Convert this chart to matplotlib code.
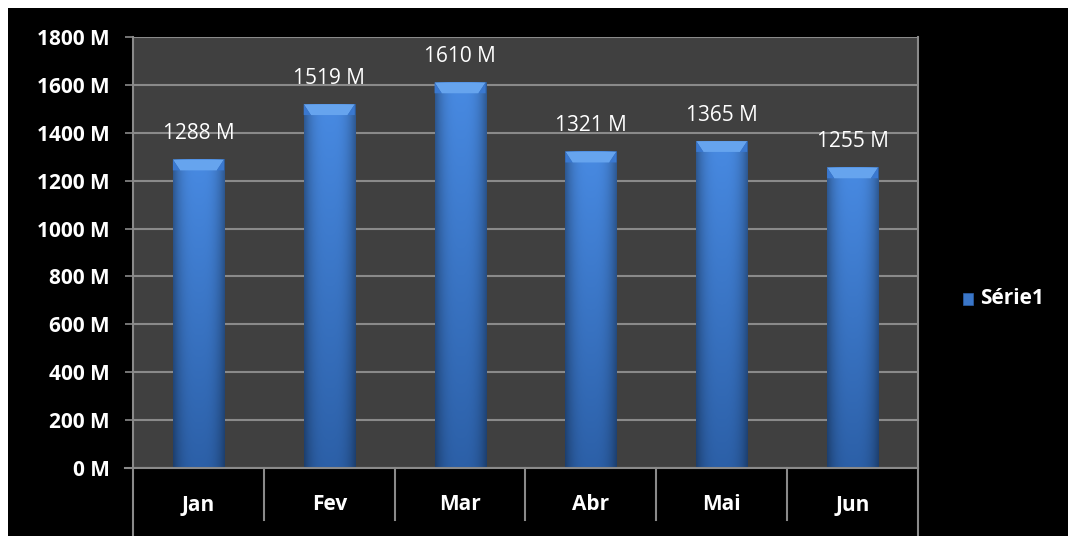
import matplotlib
matplotlib.use("Agg")
import matplotlib.pyplot as plt
import numpy as np
from matplotlib.patches import Rectangle, Polygon

categories = ["Jan", "Fev", "Mar", "Abr", "Mai", "Jun"]
values = [1288, 1519, 1610, 1321, 1365, 1255]
yticks = [0, 200, 400, 600, 800, 1000, 1200, 1400, 1600, 1800]
series_name = "Série1"

W, H = 1068, 536
fig = plt.figure(figsize=(W / 100, H / 100), dpi=100, facecolor="white")
bg = Rectangle((8 / W, 0), 1 - 8 / W, 1 - 8 / H, transform=fig.transFigure,
               facecolor="black", edgecolor="none", zorder=-10)
fig.add_artist(bg)

L, R, T, B = 133, 918, 37, 468
ax = fig.add_axes([L / W, 1 - B / H, (R - L) / W, (B - T) / H])
ax.set_zorder(1)
ax.set_facecolor("#404040")
ax.set_xlim(-0.5, len(categories) - 0.5)
ax.set_ylim(0, 1800)

for s in ax.spines.values():
    s.set_visible(False)

FS = 15
grid_col = "#8a8a8a"
ax.set_yticks(yticks)
ax.set_yticklabels([f"{v} M" for v in yticks], color="white", fontsize=FS,
                   fontfamily="Open Sans", fontweight="bold")
ax.tick_params(axis="y", length=6, width=1.2, color=grid_col, pad=11)
ax.set_xticks([])
for v in yticks:
    ax.axhline(v, color=grid_col, lw=1.5, zorder=1)

bw = 0.39
xs = np.arange(len(categories))
bars = ax.bar(xs, values, width=bw, color="#3a76c8", zorder=2, label=series_name)

# gradients on bars
ny = 64
gx = np.linspace(-1, 1, 64)
hshade = 1 - 0.35 * np.abs(gx) ** 3
gy = np.linspace(0, 1, ny)
top_col = np.array([0x48, 0x8a, 0xe2]) / 255
bot_col = np.array([0x2c, 0x60, 0xa8]) / 255
for rect in bars:
    x0 = rect.get_x(); h = rect.get_height()
    vcol = bot_col[None, :] * (1 - gy[:, None]) + top_col[None, :] * gy[:, None]
    img = vcol[:, None, :] * hshade[None, :, None]
    ax.imshow(np.clip(img, 0, 1), extent=(x0, x0 + bw, 0, h), origin="lower",
              aspect="auto", zorder=3, interpolation="bilinear")
    # bevel
    bh = 45
    ins = 0.055
    poly = Polygon([(x0, h), (x0 + bw, h), (x0 + bw - ins, h - bh), (x0 + ins, h - bh)],
                   closed=True, facecolor="#66a4ee", edgecolor="none", zorder=4)
    ax.add_patch(poly)
    poly2 = Polygon([(x0, h), (x0 + ins, h - bh), (x0, h - bh)], closed=True,
                    facecolor="#3a78cf", edgecolor="none", zorder=4)
    ax.add_patch(poly2)
    poly3 = Polygon([(x0 + bw, h), (x0 + bw - ins, h - bh), (x0 + bw, h - bh)], closed=True,
                    facecolor="#3a78cf", edgecolor="none", zorder=4)
    ax.add_patch(poly3)
ax.set_xlim(-0.5, len(categories) - 0.5)
ax.set_ylim(0, 1800)

for x, v in zip(xs, values):
    ax.annotate(f"{v} M", (x, v), xytext=(0, 18.5), textcoords="offset points",
                ha="center", va="center", color="white", fontsize=FS,
                fontfamily="Open Sans", zorder=5)

# category table lines
tr = ax.get_xaxis_transform()
ybot = (B - H) / (B - T)
ysep = (B - 520) / (B - T)
ax.plot([-0.5, -0.5], [ybot, 1], transform=tr, color=grid_col, lw=1.5, clip_on=False, zorder=6)
ax.plot([5.5, 5.5], [ybot, 1], transform=tr, color=grid_col, lw=1.5, clip_on=False, zorder=6)
for k in range(1, len(categories)):
    ax.plot([k - 0.5, k - 0.5], [ysep, 0], transform=tr, color=grid_col, lw=1.5, clip_on=False)
ax.plot([-0.5 - 8 / ((R - L) / 6), 5.5], [0, 0], transform=tr, color=grid_col, lw=1.5, clip_on=False, zorder=6)
ycat = (B - 505) / (B - T)
for x, c in zip(xs, categories):
    ax.text(x, ycat, c, transform=tr, ha="center", va="center", color="white",
            fontsize=FS, fontfamily="Open Sans", fontweight="bold")

# legend
fig.patches.append(Rectangle((963 / W, 1 - 305 / H), 10 / W, 12 / H, transform=fig.transFigure,
                             facecolor="#3a76c8", edgecolor="#2c60a8", lw=0.5, zorder=5))
fig.text(980 / W, 1 - 299 / H, series_name, color="white", fontsize=FS,
         fontfamily="Open Sans", fontweight="bold", va="center", ha="left")

fig.savefig("out.png", dpi=100, facecolor="white")
